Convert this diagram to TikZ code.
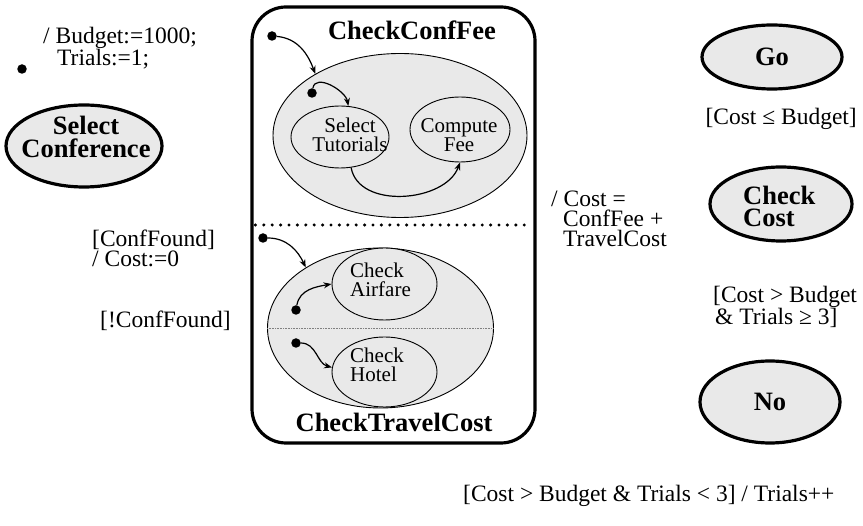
\documentclass[tikz,border=0pt]{standalone}
\usepackage{fontspec}
\setmainfont{Liberation Serif}
\usetikzlibrary{shapes.geometric,arrows.meta}
\definecolor{stfill}{HTML}{E9E9E9}
\begin{document}
\begin{tikzpicture}[x=1pt,y=1pt,
  toplevel/.style={ellipse,draw,line width=3.2pt,fill=stfill,inner sep=0pt},
  substate/.style={ellipse,draw,line width=0.9pt,fill=stfill,inner sep=0pt},
  initdot/.style={circle,fill=black,inner sep=0pt,minimum size=9.5pt},
  trans/.style={line width=1.2pt,-{Stealth[length=8pt,width=6pt]}},
  lbl/.style={font=\fontsize{23.5}{20}\selectfont,inner sep=0pt,align=left},
  bname/.style={font=\fontsize{26.5}{23}\selectfont\bfseries,inner sep=0pt,align=center},
  bnamel/.style={font=\fontsize{26.5}{22}\selectfont\bfseries,inner sep=0pt,align=left},
  iname/.style={font=\fontsize{21}{19}\selectfont,inner sep=0pt,align=center},
  inamel/.style={font=\fontsize{21}{19}\selectfont,inner sep=0pt,align=left},
]
\useasboundingbox[fill=white] (0,0) rectangle (863,-526);

% top-level initial pseudo state and its label
\node[initdot] (i0) at (22,-69) {};
\node[lbl,anchor=base west] (l0) at (43,-66) {/ Budget:=1000;\\\hspace*{14pt}Trials:=1;};

% Select Conference
\node[toplevel,minimum width=156pt,minimum height=82pt] (sc) at (84,-146) {};
\node[bname,anchor=base] (sct) at (86,-158) {Select\\Conference};

% Composite state box
\node[draw,line width=3.2pt,rounded corners=34pt,minimum width=283pt,minimum height=436pt,inner sep=0pt] (box) at (393.5,-225) {};
\draw[line width=3.4pt,dash pattern=on 0pt off 8.4pt,line cap=round,shorten <=5pt,shorten >=5pt] (box.west) -- (box.east);
\node[bname,anchor=base] (cfft) at (412,-40) {CheckConfFee};
\node[bname,anchor=base] (tcct) at (394,-432) {CheckTravelCost};

% CheckConfFee region
\node[substate,minimum width=254pt,minimum height=164pt] (cf) at (400,-135.5) {};
\node[substate,minimum width=98pt,minimum height=62pt] (st) at (340,-137) {};
\node[iname,anchor=base] (stt) at (350,-152) {Select\\Tutorials};
\node[substate,minimum width=100pt,minimum height=65pt] (cfe) at (460,-129.5) {};
\node[iname,anchor=base] (cfet) at (459,-152) {Compute\\Fee};
\node[initdot] (d1) at (272,-36) {};
\node[initdot] (d2) at (312,-93) {};
\draw[trans] (d1) to[out=-5,in=110] (cf.144);
\draw[trans] (d2) to[out=80,in=100] (st.75);
\draw[trans] (st.-70) to[out=-80,in=-110] (cfe.-90);

% CheckTravelCost region
\node[substate,minimum width=226pt,minimum height=160pt] (tc) at (380.5,-328) {};
\draw[gray,line width=0.8pt,dash pattern=on 0.8pt off 0.8pt] (tc.west) -- (tc.east);
\node[substate,minimum width=105pt,minimum height=72pt] (ca) at (384.5,-284) {};
\node[inamel,anchor=base west] (cat) at (350,-297) {Check\\Airfare};
\node[substate,minimum width=105pt,minimum height=70pt] (ch) at (384.5,-372) {};
\node[inamel,anchor=base west] (cht) at (350,-382) {Check\\Hotel};
\node[initdot] (d3) at (263,-238) {};
\node[initdot] (d4) at (296,-310) {};
\node[initdot] (d5) at (296,-343) {};
\draw[trans] (d3) to[out=0,in=115] (tc.141);
\draw[trans] (d4) to[out=80,in=190] (ca.180);
\draw[trans] (d5) to[out=0,in=165] (ch.175);

% labels on the left
\node[lbl,anchor=base west] (l1) at (92,-267) {[ConfFound]\\/ Cost:=0};
\node[lbl,anchor=base west] (l2) at (100,-328) {[!ConfFound]};

% right side states
\node[toplevel,minimum width=140pt,minimum height=64pt] (go) at (772,-57) {};
\node[bname] (got) at (go) {Go};
\node[toplevel,minimum width=142pt,minimum height=74pt] (cc) at (781,-204) {};
\node[bnamel,anchor=base west] (cct) at (743,-227) {Check\\Cost};
\node[toplevel,minimum width=140pt,minimum height=82pt] (no) at (770,-402) {};
\node[bname] (not) at (no) {No};

% labels on the right
\node[lbl,anchor=base east] (l3) at (857,-125) {[Cost ≤ Budget]};
\node[lbl,anchor=base west] (l4) at (551,-247) {/ Cost =\\\hspace*{12pt}ConfFee +\\\hspace*{12pt}TravelCost};
\node[lbl,anchor=base west] (l5) at (713,-325) {[Cost > Budget\\\hspace*{2pt}\& Trials ≥ 3]};
\node[lbl,anchor=base west] (l6) at (463,-502) {[Cost > Budget \& Trials < 3] / Trials++};
\end{tikzpicture}
\end{document}
